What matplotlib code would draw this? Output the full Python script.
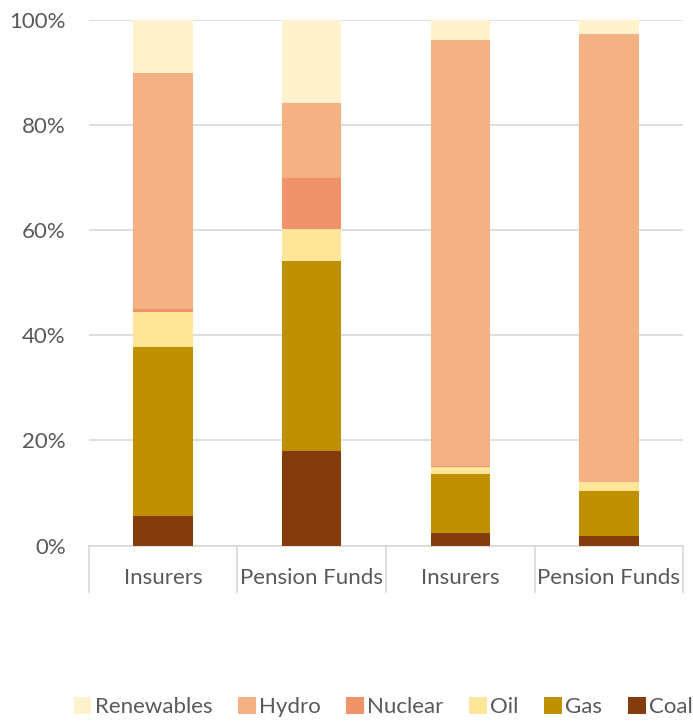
import matplotlib
matplotlib.use("Agg")
import matplotlib.pyplot as plt
from matplotlib.patches import Patch

plt.rcParams['font.family'] = ['Lato', 'DejaVu Sans']

categories = ["Insurers", "Pension Funds", "Insurers", "Pension Funds"]
series_names = ["Coal", "Gas", "Oil", "Nuclear", "Hydro", "Renewables"]
coal = [5.7, 18.0, 2.3, 1.8]
gas = [32.0, 36.1, 11.3, 8.6]
oil = [6.6, 6.1, 1.4, 1.7]
nuclear = [0.6, 9.6, 0.1, 0.0]
hydro = [45.0, 14.4, 81.0, 85.1]
renewables = [10.1, 15.8, 3.9, 2.8]
values = [coal, gas, oil, nuclear, hydro, renewables]
colors = ["#843C0C", "#BF9000", "#FFE699", "#F0936A", "#F4B183", "#FFF2CC"]
yticks = [0, 20, 40, 60, 80, 100]
ytick_labels = ["0%", "20%", "40%", "60%", "80%", "100%"]

text_color = "#595959"
grid_color = "#D9D9D9"
fs = 16

fig = plt.figure(figsize=(6.93, 7.23), dpi=100)
ax = fig.add_axes([0.128, 0.2455, 0.858, 0.7275])

x = list(range(len(categories)))
bottom = [0.0] * len(categories)
for name, vals, c in zip(series_names, values, colors):
    ax.bar(x, vals, width=0.4, bottom=bottom, color=c, label=name, zorder=3)
    bottom = [b + v for b, v in zip(bottom, vals)]

ax.set_xlim(-0.5, len(categories) - 0.5)
ax.set_ylim(0, 100)
ax.set_yticks(yticks)
ax.set_yticklabels(ytick_labels)
ax.yaxis.grid(True, color=grid_color, linewidth=1.2, zorder=0)
ax.set_axisbelow(True)
for s in ["left", "right", "top"]:
    ax.spines[s].set_visible(False)
ax.spines["bottom"].set_color(grid_color)
ax.spines["bottom"].set_linewidth(1.2)
ax.set_xticks(x)
ax.set_xticklabels(categories)
ax.tick_params(axis="x", length=0, pad=16, labelsize=fs, labelcolor=text_color)
ax.tick_params(axis="y", length=0, pad=16.5, labelsize=fs, labelcolor=text_color)

# category separators extending below the axis
trans = ax.get_xaxis_transform()
for b in [i - 0.5 for i in range(len(categories) + 1)]:
    ax.plot([b, b], [0, -0.0875], transform=trans, color=grid_color,
            linewidth=1.2, clip_on=False, zorder=1)

handles = [Patch(facecolor=c, edgecolor="none") for c in colors][::-1]
labels = series_names[::-1]
leg = fig.legend(handles, labels, loc="center", bbox_to_anchor=(0.553, 0.022),
                 ncol=6, frameon=False, fontsize=fs, handlelength=0.8,
                 handleheight=0.8, handletextpad=0.15, columnspacing=1.15,
                 borderpad=0.1)
for t in leg.get_texts():
    t.set_color(text_color)

fig.savefig("out.png", dpi=100)
